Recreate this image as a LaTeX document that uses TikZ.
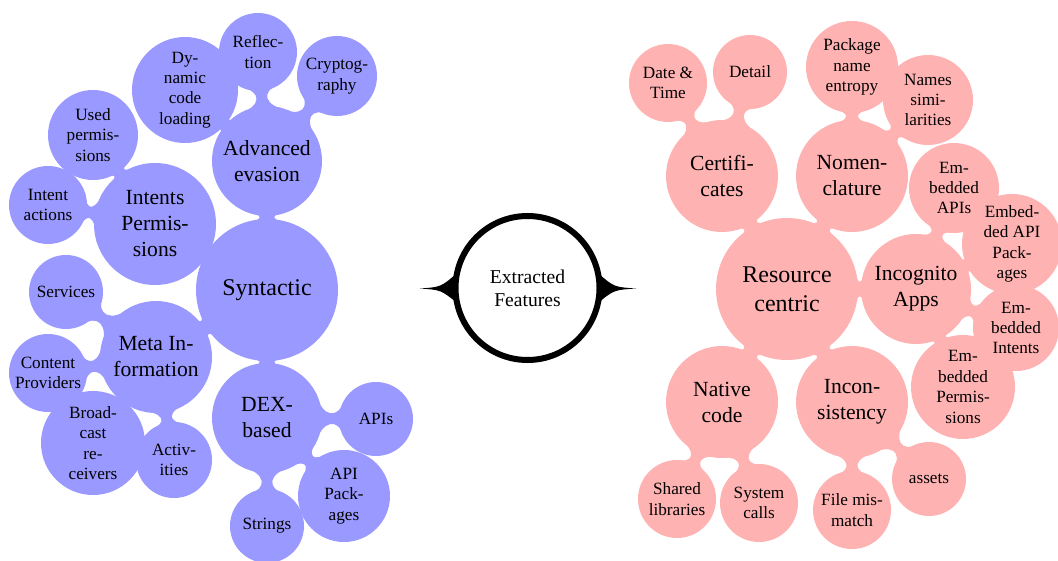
\documentclass[tikz,border=0pt]{standalone}
\usepackage{fontspec}
\setmainfont{Liberation Serif}
\usetikzlibrary{calc,backgrounds}
\colorlet{synC}{blue!40}
\colorlet{resC}{red!30}
\newcommand\cbar[3]{%
  \path[fill=#3] let \p1=($(#2.center)-(#1.center)$),
    \n1={atan2(\y1,\x1)},
    \n2={int(mod(\n1+388,360))},
    \n3={int(mod(\n1+332,360))},
    \n4={int(mod(\n1+512,360))},
    \n5={int(mod(\n1+568,360))},
    \n6={int(mod(\n1+360,360))},
    \n7={int(mod(\n1+540,360))} in
    (#1.\n2) .. controls (#1.\n6) and (#2.\n7) .. (#2.\n4)
    -- (#2.\n5) .. controls (#2.\n7) and (#1.\n6) .. (#1.\n3) -- cycle;
}
\tikzset{
  concept/.style={circle, inner sep=0pt, outer sep=0pt, align=center, text=black},
  rad/.style={minimum size=#1pt},
  lroot/.style={circle, inner sep=0pt, outer sep=0pt, align=center, draw=black,
    line width=3pt, fill=white, minimum size=72pt, font=\fontsize{9.8}{11.5}\selectfont},
  lone/.style={concept, font=\fontsize{12}{14.5}\selectfont},
  ltwo/.style={concept, font=\fontsize{10.8}{13}\selectfont},
  lthree/.style={concept, font=\fontsize{8.6}{10.2}\selectfont},
}
\begin{document}
\begin{tikzpicture}[x=0.5pt,y=-0.5pt]
\useasboundingbox (0,0) rectangle (1058,561);
% root
\node[lroot] (root) at (527.5,288) {Extracted\\Features};
\coordinate (ltip) at (420,288.5);
\coordinate (rtip) at (636,288.5);
% left branch
\node[lone,rad=71] (syn) at (267,290) {Syntactic};
\node[ltwo,rad=55] (adv) at (267,161) {Advanced\\evasion};
\node[lthree,rad=53] (dyn) at (185,90) {Dy-\\namic\\code\\loading};
\node[lthree,rad=39] (refl) at (258,52) {Reflec-\\tion};
\node[lthree,rad=40] (crypt) at (337,76) {Cryptog-\\raphy};
\node[ltwo,rad=61] (intp) at (155,224) {Intents\\Permis-\\sions};
\node[lthree,rad=45] (used) at (93,135) {Used\\permis-\\sions};
\node[lthree,rad=39] (iact) at (48,205) {Intent\\actions};
\node[ltwo,rad=56] (meta) at (156,357) {Meta In-\\formation};
\node[lthree,rad=37] (serv) at (66,292) {Services};
\node[lthree,rad=39] (cprov) at (48,373) {Content\\Providers};
\node[lthree,rad=52] (bcast) at (93,443) {Broad-\\cast\\re-\\ceivers};
\node[lthree,rad=38] (act) at (174,460) {Activ-\\ities};
\node[ltwo,rad=55] (dex) at (267,418) {DEX-\\based};
\node[lthree,rad=37] (apis) at (376,419) {APIs};
\node[lthree,rad=46] (apipk) at (344,496) {API\\Pack-\\ages};
\node[lthree,rad=37] (str) at (267,526) {Strings};
% right branch
\node[lone,rad=71] (res) at (787,289) {Resource\\centric};
\node[ltwo,rad=56] (cert) at (722,176) {Certifi-\\cates};
\node[lthree,rad=39] (dt) at (668,83) {Date \&\\Time};
\node[lthree,rad=37] (det) at (750,72) {Detail};
\node[ltwo,rad=56] (nom) at (852,176) {Nomen-\\clature};
\node[lthree,rad=46] (pne) at (852,67) {Package\\name\\entropy};
\node[lthree,rad=45] (nsim) at (928,100) {Names\\simi-\\larities};
\node[ltwo,rad=55] (inc) at (916,289) {Incognito\\Apps};
\node[lthree,rad=45] (eapi) at (954,188) {Em-\\bedded\\APIs};
\node[lthree,rad=50] (eapk) at (1012,244) {Embed-\\ded API\\Pack-\\ages};
\node[lthree,rad=43] (eint) at (1016,328) {Em-\\bedded\\Intents};
\node[lthree,rad=52] (eperm) at (963,387) {Em-\\bedded\\Permis-\\sions};
\node[ltwo,rad=56] (nat) at (722,402) {Native\\code};
\node[ltwo,rad=56] (incons) at (852,402) {Incon-\\sistency};
\node[lthree,rad=39] (shl) at (677,499) {Shared\\libraries};
\node[lthree,rad=39] (sysc) at (759,503) {System\\calls};
\node[lthree,rad=39] (fmm) at (852,510) {File mis-\\match};
\node[lthree,rad=37] (ass) at (929,479) {assets};
\begin{scope}[on background layer]
  % spikes of the root
  \fill[black] (root.168) .. controls (441,287) .. (ltip) .. controls (441,290) .. (root.192) -- cycle;
  \fill[black] (root.12) .. controls (614,287) .. (rtip) .. controls (614,290) .. (root.-12) -- cycle;
  % concept discs
  \foreach \nd in {syn,adv,dyn,refl,crypt,intp,used,iact,meta,serv,cprov,bcast,act,dex,apis,apipk,str}
    \fill[synC] let \p1=($(\nd.east)-(\nd.center)$) in (\nd.center) circle[radius=\x1];
  \foreach \nd in {res,cert,dt,det,nom,pne,nsim,inc,eapi,eapk,eint,eperm,nat,incons,shl,sysc,fmm,ass}
    \fill[resC] let \p1=($(\nd.east)-(\nd.center)$) in (\nd.center) circle[radius=\x1];
  % connection bars
  \cbar{syn}{adv}{synC} \cbar{syn}{intp}{synC} \cbar{syn}{meta}{synC} \cbar{syn}{dex}{synC}
  \cbar{adv}{dyn}{synC} \cbar{adv}{refl}{synC} \cbar{adv}{crypt}{synC}
  \cbar{intp}{used}{synC} \cbar{intp}{iact}{synC}
  \cbar{meta}{serv}{synC} \cbar{meta}{cprov}{synC} \cbar{meta}{bcast}{synC} \cbar{meta}{act}{synC}
  \cbar{dex}{apis}{synC} \cbar{dex}{apipk}{synC} \cbar{dex}{str}{synC}
  \cbar{res}{cert}{resC} \cbar{res}{nom}{resC} \cbar{res}{inc}{resC} \cbar{res}{nat}{resC} \cbar{res}{incons}{resC}
  \cbar{cert}{dt}{resC} \cbar{cert}{det}{resC}
  \cbar{nom}{pne}{resC} \cbar{nom}{nsim}{resC}
  \cbar{inc}{eapi}{resC} \cbar{inc}{eapk}{resC} \cbar{inc}{eint}{resC} \cbar{inc}{eperm}{resC}
  \cbar{nat}{shl}{resC} \cbar{nat}{sysc}{resC}
  \cbar{incons}{fmm}{resC} \cbar{incons}{ass}{resC}
\end{scope}
\end{tikzpicture}
\end{document}
